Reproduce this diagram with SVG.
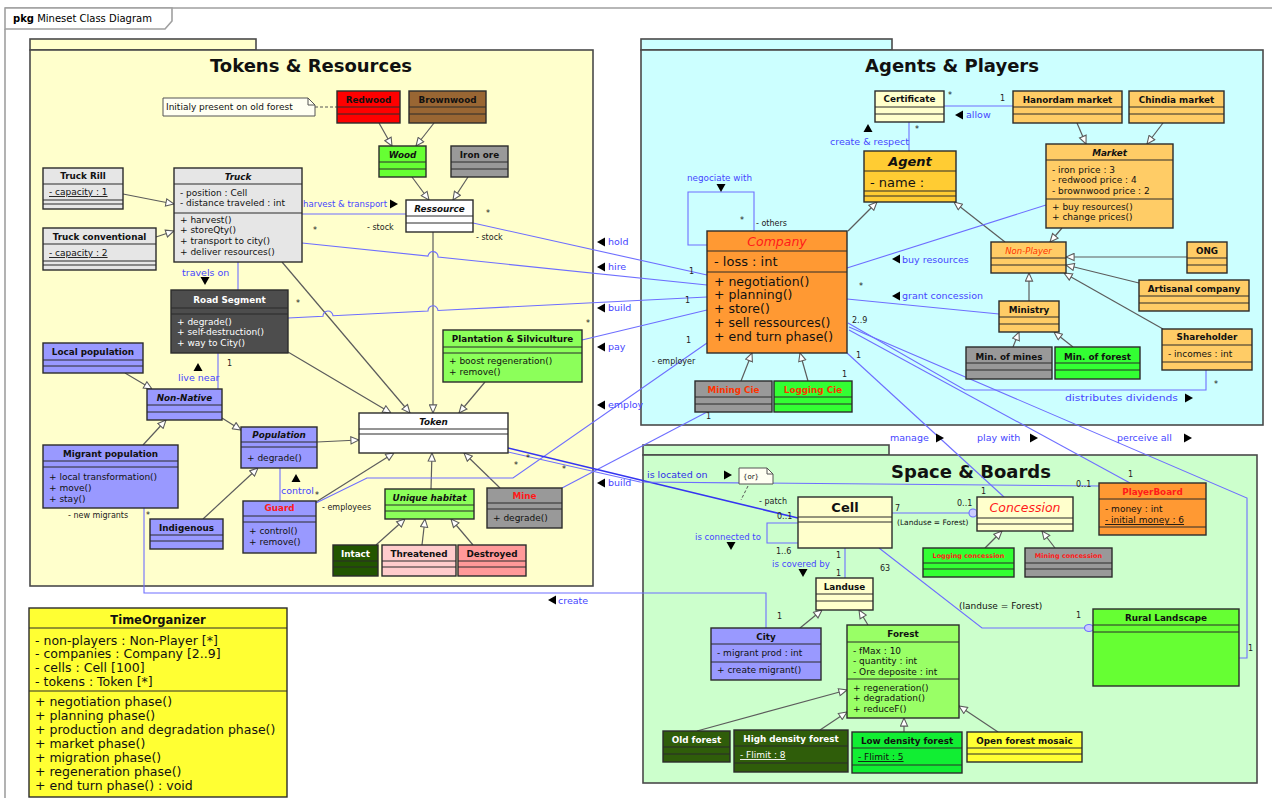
<svg xmlns="http://www.w3.org/2000/svg" width="1272" height="798" viewBox="0 0 1272 798">
<defs>
<style>
text{font-family:"DejaVu Sans","Noto Sans",sans-serif;}
.c{stroke:#2b2b2b;stroke-width:1.4;}
.s{stroke:#2b2b2b;stroke-width:1;fill:none;}
.n{font-size:8.8px;font-weight:bold;text-anchor:middle;fill:#111;}
.i{font-style:italic;}
.m{font-size:9px;fill:#111;}
.u{text-decoration:underline;}
.g{stroke:#5c5c5c;stroke-width:1.2;fill:none;marker-end:url(#gen);}
.a{stroke:#6e6eff;stroke-width:1.1;fill:none;}
.lb{font-size:9.5px;fill:#4646ff;}
.k{font-size:8px;fill:#222;}
.pk{stroke:#4a4a4a;stroke-width:1.6;}
.pt{font-size:18px;font-weight:bold;text-anchor:middle;fill:#111;}
.big{font-size:12.5px;fill:#111;}
</style>
<marker id="gen" markerUnits="userSpaceOnUse" markerWidth="9" markerHeight="9" viewBox="0 0 10 10" refX="10" refY="5" orient="auto"><path d="M1,1L10,5L1,9Z" fill="#fff" stroke="#5c5c5c" stroke-width="1.2"/></marker>
<path id="tR" d="M0,-4.5L8,0L0,4.5Z"/>
<path id="tL" d="M8,-4.5L0,0L8,4.5Z"/>
<path id="tU" d="M-4.5,8L0,0L4.5,8Z"/>
<path id="tD" d="M-4.5,0L4.5,0L0,8Z"/>
</defs>
<rect width="1272" height="798" fill="#fff"/>
<g id="frame"><path d="M5,29V798M5,8H1272" stroke="#a0a0a0" stroke-width="1.6" fill="none"/><path d="M5,8H172V21L165,29H5Z" fill="#fff" stroke="#a0a0a0" stroke-width="1.6"/><text x="13" y="22" font-size="10"><tspan font-weight="bold">pkg</tspan> Mineset Class Diagram</text></g>
<g id="pkg-tokens"><rect x="30" y="39" width="226" height="11" fill="#ffffcc" class="pk"/><rect x="30" y="50" width="563" height="536" fill="#ffffcc" class="pk"/><text x="311" y="72" class="pt">Tokens &amp; Resources</text></g>
<g id="pkg-agents"><rect x="641" y="39" width="251" height="11" fill="#ccffff" class="pk"/><rect x="641" y="50" width="622" height="375" fill="#ccffff" class="pk"/><text x="952" y="72" class="pt">Agents &amp; Players</text></g>
<g id="pkg-space"><rect x="643" y="445" width="246" height="10" fill="#ccffcc" class="pk"/><rect x="643" y="455" width="614" height="328" fill="#ccffcc" class="pk"/><text x="971" y="478" class="pt">Space &amp; Boards</text></g>

<g id="connectors">
<path d="M315,107H337" stroke="#555" stroke-width="1" stroke-dasharray="3,2" fill="none"/>
<path class="g" d="M123,194L174,204"/>
<path class="g" d="M156,237L174,231"/>
<path class="g" d="M379,123L392,146"/>
<path class="g" d="M434,123L416,146"/>
<path class="g" d="M412,177L429,200"/>
<path class="g" d="M468,177L453,200"/>
<path class="g" d="M433,232L433,413"/>
<path class="g" d="M282,262L410,413"/>
<path class="g" d="M288,352L391,413"/>
<path class="g" d="M485,382L459,413"/>
<path class="g" d="M317,442L359,440"/>
<path class="g" d="M316,502L394,453"/>
<path class="g" d="M431,489L432,453"/>
<path class="g" d="M500,488L464,453"/>
<path class="g" d="M376,545L405,519"/>
<path class="g" d="M422,545L425,519"/>
<path class="g" d="M473,545L451,519"/>
<path class="g" d="M125,373L152,389"/>
<path class="g" d="M222,418L241,430"/>
<path class="g" d="M143,445L166,420"/>
<path class="g" d="M203,519L258,468"/>
<path class="g" d="M1077,123L1086,144"/>
<path class="g" d="M1163,123L1147,144"/>
<path class="g" d="M848,231L877,202"/>
<path class="g" d="M1005,242L954,202"/>
<path class="g" d="M1062,228L1050,242"/>
<path class="g" d="M1187,257L1066,257"/>
<path class="g" d="M1139,283L1066,265"/>
<path class="g" d="M1163,329L1064,273"/>
<path class="g" d="M1029,301L1029,273"/>
<path class="g" d="M1013,347L1019,332"/>
<path class="g" d="M1073,347L1054,332"/>
<path class="g" d="M741,381L752,353"/>
<path class="g" d="M808,381L800,353"/>
<path class="g" d="M985,548L1002,531"/>
<path class="g" d="M1055,548L1042,531"/>
<path class="g" d="M800,628L822,610"/>
<path class="g" d="M868,625L859,610"/>
<path class="g" d="M697,731L847,690"/>
<path class="g" d="M820,730L847,712"/>
<path class="g" d="M904,732L904,718"/>
<path class="g" d="M998,732L959,706"/>

<path class="a" d="M302,214H406"/>
<path class="a" d="M473,223L707,275"/>
<path class="a" d="M302,243L428,256.1A5,5 0 0 1 438,257.1L707,285"/>
<path class="a" d="M288,318L323,316.25A5,5 0 0 1 333,315.75L428,311A5,5 0 0 1 438,310.5L707,297"/>
<path class="a" d="M582,340L707,310"/>
<path class="a" d="M316,503L367,478H513L707,343"/>
<path class="a" d="M562,488L707,412"/>
<path d="M508,448L798,518" stroke="#3535f0" stroke-width="1.6" fill="none"/>
<path class="a" d="M508,452L640,482L1099,486"/>
<path class="a" d="M144,508V593H766V628"/>
<path class="a" d="M238,262V290"/>
<path class="a" d="M218,353V389"/>
<path class="a" d="M280,468V501"/>
<path class="a" d="M944,106H1013"/>
<path class="a" d="M909,122V151"/>
<path class="a" d="M707,245H688V192H754V231"/>
<path class="a" d="M847,268L1046,205"/>
<path class="a" d="M847,299L999,314"/>
<path class="a" d="M848,323L965,390H1206V370"/>
<path class="a" d="M849,330L1130,483"/>
<path class="a" d="M849,327L1247,498V658H1239"/>
<path class="a" d="M847,353L1004,497"/>
<path class="a" d="M798,523H767V543H798"/>
<path class="a" d="M845,548V578"/>
<path class="a" d="M892,513H969"/>
<circle cx="973" cy="513" r="4" fill="#ccccff" stroke="#6e6eff" stroke-width="1.1"/>
<path class="a" d="M879,548L982,628H1085"/>
<ellipse cx="1089" cy="628" rx="4.5" ry="3.5" fill="#ccccff" stroke="#6e6eff" stroke-width="1.1"/>
<path d="M748,486L741,500" stroke="#555" stroke-width="1" stroke-dasharray="3,2" fill="none"/>
</g>

<g id="labels">
<text x="303" y="207" class="lb" textLength="84" lengthAdjust="spacingAndGlyphs">harvest &amp; transport</text><use href="#tR" x="390" y="204"/>
<text x="313" y="233" class="k">*</text>
<text x="367" y="230" class="k">- stock</text>
<text x="486" y="216" class="k">*</text>
<text x="476" y="240" class="k">- stock</text>
<text x="296" y="306" class="k">*</text>
<text x="182" y="276" class="lb">travels on</text><use href="#tD" x="205" y="277"/>
<use href="#tU" x="198" y="363"/><text x="178" y="381" class="lb">live near</text>
<text x="227" y="366" class="k">1</text>
<use href="#tU" x="296" y="474"/><text x="281" y="494" class="lb">control</text>
<text x="315" y="498" class="k">*</text>
<text x="322" y="510" class="k">- employees</text>
<text x="68" y="518" class="k">- new migrants</text>
<text x="146" y="518" class="k">*</text>
<text x="586" y="326" class="k">*</text>
<text x="514" y="468" class="k">*</text>
<text x="526" y="461" class="k">*</text>
<text x="562" y="472" class="k">*</text>
<use href="#tL" x="597" y="242"/><text x="608" y="245" class="lb">hold</text>
<use href="#tL" x="597" y="267"/><text x="608" y="270" class="lb">hire</text>
<use href="#tL" x="597" y="308"/><text x="608" y="311" class="lb">build</text>
<use href="#tL" x="597" y="347"/><text x="608" y="350" class="lb">pay</text>
<use href="#tL" x="597" y="405"/><text x="608" y="408" class="lb">employ</text>
<use href="#tL" x="597" y="483"/><text x="608" y="486" class="lb">build</text>
<use href="#tL" x="548" y="600"/><text x="558" y="604" class="lb">create</text>
<text x="948" y="98" class="k">*</text>
<text x="1000" y="101" class="k">1</text>
<use href="#tL" x="955" y="115"/><text x="966" y="118" class="lb">allow</text>
<use href="#tU" x="868" y="124"/><text x="830" y="145" class="lb">create &amp; respect</text>
<text x="915" y="132" class="k">*</text>
<text x="687" y="181" class="lb" textLength="65" lengthAdjust="spacingAndGlyphs">negociate with</text><use href="#tD" x="721" y="184"/>
<text x="740" y="223" class="k">*</text>
<text x="756" y="226" class="k">- others</text>
<text x="689" y="274" class="k">1</text>
<text x="685" y="303" class="k">1</text>
<text x="686" y="343" class="k">1</text>
<text x="652" y="364" class="k">- employer</text>
<use href="#tL" x="892" y="259"/><text x="902" y="263" class="lb">buy resources</text>
<text x="859" y="289" class="k">*</text>
<use href="#tL" x="892" y="296"/><text x="902" y="299" class="lb">grant concession</text>
<text x="852" y="323" class="k">2..9</text>
<text x="856" y="358" class="k">1</text>
<text x="842" y="377" class="k">1</text>
<text x="706" y="419" class="k">1</text>
<text x="1214" y="387" class="k">*</text>
<text x="1065" y="401" class="lb" textLength="113" lengthAdjust="spacingAndGlyphs">distributes dividends</text><use href="#tR" x="1185" y="398"/>
<text x="890" y="441" class="lb">manage</text><use href="#tR" x="936" y="438"/>
<text x="977" y="441" class="lb">play with</text><use href="#tR" x="1030" y="438"/>
<text x="1117" y="441" class="lb">perceive all</text><use href="#tR" x="1184" y="438"/>
<text x="647" y="478" class="lb" style="fill:#2f2fe8">is located on</text><use href="#tR" x="724" y="475"/>
<text x="759" y="504" class="k">- patch</text>
<text x="777" y="519" class="k">0..1</text>
<text x="695" y="540" class="lb" textLength="66" lengthAdjust="spacingAndGlyphs">is connected to</text><use href="#tD" x="731" y="542"/>
<text x="776" y="554" class="k">1..6</text>
<text x="836" y="558" class="k">1</text>
<text x="836" y="576" class="k">1</text>
<text x="772" y="567" class="lb" textLength="58" lengthAdjust="spacingAndGlyphs">is covered by</text><use href="#tD" x="803" y="569"/>
<text x="880" y="571" class="k">63</text>
<text x="895" y="511" class="k">7</text>
<text x="897" y="525" style="font-size:7.5px;fill:#111">(Landuse = Forest)</text>
<text x="957" y="506" class="k">0..1</text>
<text x="981" y="494" class="k">1</text>
<text x="1076" y="487" class="k">0..1</text>
<text x="1128" y="477" class="k">1</text>
<text x="959" y="609" class="m">(landuse = Forest)</text>
<text x="1076" y="618" class="k">1</text>
<text x="1248" y="651" class="k">1</text>
<text x="777" y="619" class="k">1</text>
</g>

<g id="note-old-forest"><path d="M163,98H308L315,105V116H163Z" fill="#fffff2" stroke="#555" stroke-width="1"/><path d="M308,98V105H315" fill="none" stroke="#555"/><text x="166" y="110" class="m">Initialy present on old forest</text></g>
<g id="redwood"><rect x="337" y="91" width="63" height="32" fill="#ff0000" class="c"/><path class="s" d="M337,107H400M337,114H400"/><text x="368.5" y="103" class="n">Redwood</text></g>
<g id="brownwood"><rect x="409" y="91" width="77" height="32" fill="#996633" class="c"/><path class="s" d="M409,107H486M409,114H486"/><text x="447.5" y="103" class="n">Brownwood</text></g>
<g id="wood"><rect x="379" y="146" width="47" height="31" fill="#66ff33" class="c"/><path class="s" d="M379,162H426M379,169H426"/><text x="402.5" y="158" class="n i">Wood</text></g>
<g id="iron-ore"><rect x="451" y="146" width="57" height="31" fill="#999999" class="c"/><path class="s" d="M451,162H508M451,169H508"/><text x="479.5" y="158" class="n">Iron ore</text></g>
<g id="ressource"><rect x="406" y="200" width="67" height="32" fill="#ffffff" class="c"/><path class="s" d="M406,216H473M406,223H473"/><text x="439.5" y="212" class="n i">Ressource</text></g>
<g id="truck-rill"><rect x="43" y="168" width="80" height="41" fill="#e6e6e6" class="c"/><path class="s" d="M43,184H123M43,200H123M43,204H123"/><text x="83" y="179" class="n">Truck Rill</text><text x="49" y="195" class="m u">- capacity : 1</text></g>
<g id="truck-conventional"><rect x="43" y="228" width="113" height="42" fill="#e6e6e6" class="c"/><path class="s" d="M43,244H156M43,261H156M43,265H156"/><text x="99.5" y="240" class="n">Truck conventional</text><text x="49" y="256" class="m u">- capacity : 2</text></g>
<g id="truck"><rect x="174" y="168" width="128" height="94" fill="#e6e6e6" class="c"/><path class="s" d="M174,184H302M174,213H302"/><text x="238" y="180" class="n i">Truck</text><text x="180" y="196" class="m">- position : Cell</text><text x="180" y="206" class="m">- distance traveled : int</text><text x="180" y="223" class="m">+ harvest()</text><text x="180" y="233" class="m">+ storeQty()</text><text x="180" y="244" class="m">+ transport to city()</text><text x="180" y="255" class="m">+ deliver resources()</text></g>
<g id="road-segment"><rect x="171" y="290" width="117" height="63" fill="#4d4d4d" class="c"/><path class="s" d="M171,308H288M171,314H288"/><text x="229.5" y="303" class="n" style="fill:#fff">Road Segment</text><text x="177" y="325" class="m" style="fill:#fff">+ degrade()</text><text x="177" y="335" class="m" style="fill:#fff">+ self-destruction()</text><text x="177" y="346" class="m" style="fill:#fff">+ way to City()</text></g>
<g id="local-population"><rect x="43" y="343" width="100" height="30" fill="#9999ff" class="c"/><path class="s" d="M43,360H143M43,366H143"/><text x="93" y="355" class="n">Local population</text></g>
<g id="non-native"><rect x="147" y="389" width="75" height="31" fill="#9999ff" class="c"/><path class="s" d="M147,405H222M147,412H222"/><text x="184.5" y="401" class="n i">Non-Native</text></g>
<g id="migrant-population"><rect x="43" y="445" width="135" height="63" fill="#9999ff" class="c"/><path class="s" d="M43,461H178M43,467H178"/><text x="110.5" y="457" class="n">Migrant population</text><text x="49" y="480" class="m">+ local transformation()</text><text x="49" y="491" class="m">+ move()</text><text x="49" y="502" class="m">+ stay()</text></g>
<g id="population"><rect x="241" y="427" width="76" height="41" fill="#9999ff" class="c"/><path class="s" d="M241,442H317M241,447H317"/><text x="279" y="438" class="n i">Population</text><text x="247" y="461" class="m">+ degrade()</text></g>
<g id="indigenous"><rect x="150" y="519" width="73" height="30" fill="#9999ff" class="c"/><path class="s" d="M150,535H223M150,541H223"/><text x="186.5" y="531" class="n">Indigenous</text></g>
<g id="guard"><rect x="243" y="501" width="73" height="52" fill="#9999ff" class="c"/><path class="s" d="M243,516H316M243,522H316"/><text x="279.5" y="511" class="n" style="fill:#ff1a1a">Guard</text><text x="249" y="534" class="m">+ control()</text><text x="249" y="545" class="m">+ remove()</text></g>
<g id="token"><rect x="359" y="413" width="149" height="40" fill="#ffffff" class="c"/><path class="s" d="M359,429H508M359,434H508"/><text x="433.5" y="425" class="n i">Token</text></g>
<g id="plantation"><rect x="443" y="330" width="139" height="52" fill="#8cff5a" class="c"/><path class="s" d="M443,347H582M443,353H582"/><text x="512.5" y="342" class="n">Plantation &amp; Silviculture</text><text x="449" y="364" class="m">+ boost regeneration()</text><text x="449" y="375" class="m">+ remove()</text></g>
<g id="unique-habitat"><rect x="385" y="489" width="89" height="30" fill="#8cff5a" class="c"/><path class="s" d="M385,505H474M385,511H474"/><text x="429.5" y="501" class="n i">Unique habitat</text></g>
<g id="mine"><rect x="487" y="488" width="75" height="40" fill="#999999" class="c"/><path class="s" d="M487,503H562M487,509H562"/><text x="524.5" y="499" class="n" style="fill:#ff1a1a">Mine</text><text x="493" y="521" class="m">+ degrade()</text></g>
<g id="intact"><rect x="333" y="545" width="45" height="31" fill="#225500" class="c"/><path class="s" d="M333,561H378M333,567H378"/><text x="355.5" y="557" class="n" style="fill:#fff">Intact</text></g>
<g id="threatened"><rect x="382" y="545" width="74" height="31" fill="#ffcccc" class="c"/><path class="s" d="M382,561H456M382,567H456" stroke="#a88"/><text x="419" y="557" class="n">Threatened</text></g>
<g id="destroyed"><rect x="458" y="545" width="68" height="31" fill="#ff9999" class="c"/><path class="s" d="M458,561H526M458,567H526"/><text x="492" y="557" class="n">Destroyed</text></g>

<g id="time-organizer"><rect x="29" y="608" width="258" height="189" fill="#ffff33" class="c"/><path class="s" d="M29,628H287M29,691H287"/><text x="158" y="624" class="n" style="font-size:11.5px">TimeOrganizer</text>
<text x="35" y="645" class="big">- non-players : Non-Player [*]</text><text x="35" y="658" class="big">- companies : Company [2..9]</text><text x="35" y="672" class="big">- cells : Cell [100]</text><text x="35" y="686" class="big">- tokens : Token [*]</text>
<text x="35" y="706" class="big">+ negotiation phase()</text><text x="35" y="720" class="big">+ planning phase()</text><text x="35" y="734" class="big">+ production and degradation phase()</text><text x="35" y="748" class="big">+ market phase()</text><text x="35" y="762" class="big">+ migration phase()</text><text x="35" y="776" class="big">+ regeneration phase()</text><text x="35" y="790" class="big">+ end turn phase() : void</text></g>

<g id="certificate"><rect x="875" y="91" width="69" height="31" fill="#ffffcc" class="c"/><path class="s" d="M875,107H944M875,114H944"/><text x="909.5" y="102" class="n">Certificate</text></g>
<g id="hanordam-market"><rect x="1013" y="91" width="109" height="32" fill="#ffcc66" class="c"/><path class="s" d="M1013,107H1122M1013,114H1122"/><text x="1067.5" y="103" class="n">Hanordam market</text></g>
<g id="chindia-market"><rect x="1129" y="91" width="95" height="32" fill="#ffcc66" class="c"/><path class="s" d="M1129,107H1224M1129,114H1224"/><text x="1176.5" y="103" class="n">Chindia market</text></g>
<g id="agent"><rect x="864" y="151" width="92" height="51" fill="#ffcc33" class="c"/><path class="s" d="M864,171H956M864,191H956M864,196H956"/><text x="910" y="166" class="n i" style="font-size:13px">Agent</text><text x="870" y="187" style="font-size:13px;fill:#111">- name :</text></g>
<g id="market"><rect x="1046" y="144" width="127" height="84" fill="#ffcc66" class="c"/><path class="s" d="M1046,160H1173M1046,199H1173"/><text x="1109.5" y="156" class="n i">Market</text><text x="1052" y="173" class="m">- iron price : 3</text><text x="1052" y="183" class="m">- redwood price : 4</text><text x="1052" y="194" class="m">- brownwood price : 2</text><text x="1052" y="210" class="m">+ buy resources()</text><text x="1052" y="220" class="m">+ change prices()</text></g>
<g id="company"><rect x="707" y="231" width="140" height="122" fill="#ff9933" class="c"/><path class="s" d="M707,251H847M707,272H847"/><text x="777" y="246" style="font-size:12.5px;font-style:italic;text-anchor:middle;fill:#ff1a1a">Company</text><text x="714" y="266" style="font-size:13px;fill:#111">- loss : int</text><text x="714" y="286" class="big">+ negotiation()</text><text x="714" y="299" class="big">+ planning()</text><text x="714" y="313" class="big">+ store()</text><text x="714" y="327" class="big">+ sell ressources()</text><text x="714" y="341" class="big">+ end turn phase()</text></g>
<g id="non-player"><rect x="991" y="242" width="75" height="31" fill="#ffcc66" class="c"/><path class="s" d="M991,258H1066M991,265H1066"/><text x="1028.5" y="254" style="font-size:8.5px;font-style:italic;text-anchor:middle;fill:#ff3300">Non-Player</text></g>
<g id="ong"><rect x="1187" y="242" width="40" height="31" fill="#ffcc66" class="c"/><path class="s" d="M1187,258H1227M1187,265H1227"/><text x="1207" y="254" class="n">ONG</text></g>
<g id="artisanal-company"><rect x="1139" y="280" width="110" height="31" fill="#ffcc66" class="c"/><path class="s" d="M1139,296H1249M1139,303H1249"/><text x="1194" y="292" class="n">Artisanal company</text></g>
<g id="ministry"><rect x="999" y="301" width="60" height="31" fill="#ffcc66" class="c"/><path class="s" d="M999,317H1059M999,324H1059"/><text x="1029" y="313" class="n">Ministry</text></g>
<g id="shareholder"><rect x="1162" y="329" width="90" height="41" fill="#ffcc66" class="c"/><path class="s" d="M1162,345H1252M1162,362H1252"/><text x="1207" y="340" class="n">Shareholder</text><text x="1168" y="357" class="m">- incomes : int</text></g>
<g id="min-mines"><rect x="966" y="347" width="86" height="32" fill="#999999" class="c"/><path class="s" d="M966,363H1052M966,370H1052"/><text x="1009" y="360" class="n">Min. of mines</text></g>
<g id="min-forest"><rect x="1055" y="347" width="85" height="32" fill="#33ff33" class="c"/><path class="s" d="M1055,363H1140M1055,370H1140"/><text x="1097.5" y="360" class="n">Min. of forest</text></g>
<g id="mining-cie"><rect x="695" y="381" width="77" height="31" fill="#999999" class="c"/><path class="s" d="M695,397H772M695,404H772"/><text x="733.5" y="393" class="n" style="fill:#ff3300">Mining Cie</text></g>
<g id="logging-cie"><rect x="774" y="381" width="78" height="31" fill="#33ff33" class="c"/><path class="s" d="M774,397H852M774,404H852"/><text x="813" y="393" class="n" style="fill:#ff3300">Logging Cie</text></g>

<g id="note-or"><path d="M739,468H767L773,474V484H739Z" fill="#fffff2" stroke="#555" stroke-width="1"/><path d="M767,468V474H773" fill="none" stroke="#555"/><text x="743" y="479" style="font-size:7px;fill:#111">{or}</text></g>
<g id="cell"><rect x="798" y="497" width="94" height="51" fill="#ffffcc" class="c"/><path class="s" d="M798,517H892M798,522H892"/><text x="845" y="512" class="n" style="font-size:13px">Cell</text></g>
<g id="concession"><rect x="977" y="497" width="96" height="34" fill="#ffffcc" class="c"/><path class="s" d="M977,518H1073M977,524H1073"/><text x="1025" y="512" style="font-size:12.5px;font-style:italic;text-anchor:middle;fill:#ff1a1a">Concession</text></g>
<g id="playerboard"><rect x="1099" y="483" width="107" height="52" fill="#ff9933" class="c"/><path class="s" d="M1099,499H1206M1099,527H1206"/><text x="1152.5" y="495" class="n" style="fill:#ff1a1a">PlayerBoard</text><text x="1105" y="512" class="m">- money : int</text><text x="1105" y="523" class="m u">- initial money : 6</text></g>
<g id="logging-concession"><rect x="923" y="548" width="91" height="29" fill="#33ff33" class="c"/><path class="s" d="M923,563H1014M923,569H1014"/><text x="968.5" y="558" class="n" style="font-size:6.5px;fill:#ff1a1a">Logging concession</text></g>
<g id="mining-concession"><rect x="1025" y="548" width="87" height="29" fill="#999999" class="c"/><path class="s" d="M1025,563H1112M1025,569H1112"/><text x="1068.5" y="558" class="n" style="font-size:6.5px;fill:#ff1a1a">Mining concession</text></g>
<g id="landuse"><rect x="816" y="578" width="57" height="32" fill="#ffffcc" class="c"/><path class="s" d="M816,594H873M816,601H873"/><text x="844.5" y="590" class="n">Landuse</text></g>
<g id="city"><rect x="711" y="628" width="110" height="52" fill="#9999ff" class="c"/><path class="s" d="M711,644H821M711,662H821"/><text x="766" y="640" class="n">City</text><text x="717" y="656" class="m">- migrant prod : int</text><text x="717" y="673" class="m">+ create migrant()</text></g>
<g id="forest"><rect x="847" y="625" width="112" height="93" fill="#99ff66" class="c"/><path class="s" d="M847,642H959M847,679H959"/><text x="903" y="637" class="n">Forest</text><text x="853" y="654" class="m">- fMax : 10</text><text x="853" y="664" class="m">- quantity : int</text><text x="853" y="675" class="m">- Ore deposite : int</text><text x="853" y="691" class="m">+ regeneration()</text><text x="853" y="701" class="m">+ degradation()</text><text x="853" y="712" class="m">+ reduceF()</text></g>
<g id="rural-landscape"><rect x="1093" y="609" width="146" height="77" fill="#66ff33" class="c"/><path class="s" d="M1093,625H1239M1093,632H1239"/><text x="1166" y="621" class="n">Rural Landscape</text></g>
<g id="old-forest"><rect x="663" y="731" width="67" height="31" fill="#2f5d0a" class="c"/><path class="s" d="M663,747H730M663,754H730"/><text x="696.5" y="743" class="n" style="fill:#fff">Old forest</text></g>
<g id="high-density-forest"><rect x="734" y="730" width="114" height="42" fill="#2f5d0a" class="c"/><path class="s" d="M734,746H848M734,763H848"/><text x="791" y="742" class="n" style="fill:#fff">High density forest</text><text x="740" y="758" class="m u" style="fill:#fff">- Flimit : 8</text></g>
<g id="low-density-forest"><rect x="852" y="732" width="110" height="41" fill="#11ee33" class="c"/><path class="s" d="M852,748H962M852,765H962"/><text x="907" y="744" class="n">Low density forest</text><text x="858" y="760" class="m u">- Flimit : 5</text></g>
<g id="open-forest-mosaic"><rect x="967" y="732" width="115" height="30" fill="#ffff33" class="c"/><path class="s" d="M967,748H1082M967,754H1082"/><text x="1024.5" y="744" class="n">Open forest mosaic</text></g>
</svg>
